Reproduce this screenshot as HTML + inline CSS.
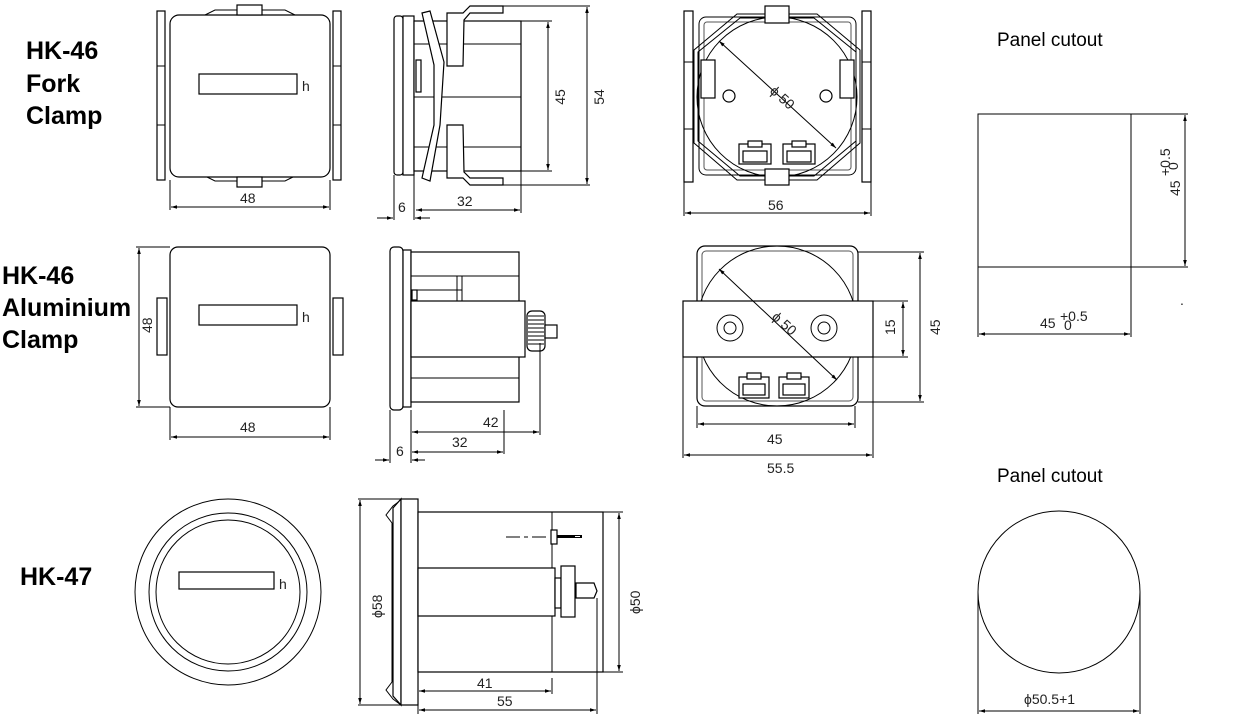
<!DOCTYPE html>
<html><head><meta charset="utf-8"><style>
html,body{margin:0;padding:0;background:#fff;width:1243px;height:723px;overflow:hidden}
svg{display:block}
.l{fill:#fff;stroke:#000;stroke-width:1.2}
.t{fill:none;stroke:#000;stroke-width:1}
.g{fill:none;stroke:#555;stroke-width:1}
.d{font-family:"Liberation Sans",sans-serif;font-size:14px;fill:#222}
.b{font-family:"Liberation Sans",sans-serif;font-size:25px;font-weight:bold;fill:#000}
.p{font-family:"Liberation Sans",sans-serif;font-size:19px;fill:#000}
</style></head><body>
<svg width="1243" height="723" viewBox="0 0 1243 723" xmlns="http://www.w3.org/2000/svg">
<defs><marker id="a" viewBox="0 0 10 10" refX="10" refY="5" markerWidth="8" markerHeight="6" orient="auto-start-reverse"><path d="M0,2L10,5L0,8z" fill="#000"/></marker></defs>
<g class="b"><text x="26" y="59">HK-46</text><text x="26" y="92">Fork</text><text x="26" y="124">Clamp</text>
<text x="2" y="284">HK-46</text><text x="2" y="316">Aluminium</text><text x="2" y="348">Clamp</text>
<text x="20" y="585">HK-47</text></g>
<text class="p" x="997" y="46">Panel cutout</text>
<text class="p" x="997" y="482">Panel cutout</text>

<!-- Row1 front -->
<rect class="l" x="157" y="11" width="8" height="169"/><line class="t" x1="157" y1="66" x2="165" y2="66"/><line class="t" x1="157" y1="125" x2="165" y2="125"/>
<rect class="l" x="333" y="11" width="8" height="169"/><line class="t" x1="333" y1="66" x2="341" y2="66"/><line class="t" x1="333" y1="125" x2="341" y2="125"/>
<path class="t" d="M205,15 L215,10 L285,10 L295,15 M205,176 L215,181 L285,181 L295,176"/>
<rect class="l" x="170" y="15" width="160" height="162" rx="9"/>
<rect class="l" x="237" y="5" width="25" height="10"/><rect class="l" x="237" y="177" width="25" height="10"/>
<rect class="l" x="199" y="74" width="98" height="20"/><text class="d" x="302" y="91" font-size="15">h</text>
<line class="t" x1="170" y1="180" x2="170" y2="210"/><line class="t" x1="330" y1="180" x2="330" y2="210"/>
<line class="t" x1="171" y1="207" x2="329" y2="207" marker-start="url(#a)" marker-end="url(#a)"/><text class="d" x="240" y="203" font-size="11">48</text>

<!-- Row1 side -->
<rect class="l" x="394" y="16" width="9" height="159" rx="3"/><rect class="l" x="403" y="16" width="11" height="159"/>
<rect class="l" x="414" y="21" width="107" height="150"/>
<line class="t" x1="414" y1="44" x2="521" y2="44"/><line class="t" x1="414" y1="97" x2="521" y2="97"/><line class="t" x1="414" y1="147" x2="521" y2="147"/>
<rect class="l" x="416" y="60" width="5" height="32"/>
<path class="l" d="M422,13 L430,11 L444,62 L440,125 L430,181 L422,178 L434,125 L434,65z"/>
<path class="l" d="M447,13 L463,13 L470,6 L503,6 L503,13 L470,13 L464,20 L463,66 L447,66z"/>
<path class="l" d="M447,125 L463,125 L464,172 L470,178 L503,178 L503,185 L470,185 L463,178 L447,178z"/>
<line class="t" x1="503" y1="6" x2="590" y2="6"/><line class="t" x1="503" y1="185" x2="590" y2="185"/>
<line class="t" x1="521" y1="21" x2="552" y2="21"/><line class="t" x1="521" y1="171" x2="552" y2="171"/>
<line class="t" x1="548" y1="22" x2="548" y2="170" marker-start="url(#a)" marker-end="url(#a)"/><text class="d" transform="translate(565,97) rotate(-90)" text-anchor="middle">45</text>
<line class="t" x1="587" y1="7" x2="587" y2="184" marker-start="url(#a)" marker-end="url(#a)"/><text class="d" transform="translate(604,97) rotate(-90)" text-anchor="middle">54</text>
<line class="t" x1="394" y1="175" x2="394" y2="220"/><line class="t" x1="414" y1="175" x2="414" y2="220"/><line class="t" x1="521" y1="171" x2="521" y2="213"/>
<line class="t" x1="416" y1="210" x2="520" y2="210" marker-start="url(#a)" marker-end="url(#a)"/><text class="d" x="457" y="206">32</text>
<line class="t" x1="377" y1="218" x2="393" y2="218" marker-end="url(#a)"/><line class="t" x1="430" y1="218" x2="415" y2="218" marker-end="url(#a)"/><text class="d" x="398" y="212">6</text>

<!-- Row1 rear -->
<rect class="l" x="684" y="11" width="9" height="171"/><line class="t" x1="684" y1="62" x2="693" y2="62"/><line class="t" x1="684" y1="129" x2="693" y2="129"/>
<rect class="l" x="862" y="11" width="9" height="171"/><line class="t" x1="862" y1="62" x2="871" y2="62"/><line class="t" x1="862" y1="129" x2="871" y2="129"/>
<rect class="t" x="699" y="17" width="157" height="158" rx="7"/>
<rect class="g" x="704" y="22" width="147" height="148" rx="3"/>
<circle class="t" cx="777" cy="97" r="80"/>
<path class="t" d="M737,14 L817,14 L860,50 L860,143 L817,180 L737,180 L694,143 L694,50z"/>
<path class="t" d="M740,18 L814,18 L856,52 L856,141 L814,176 L740,176 L698,141 L698,52z"/>
<rect class="l" x="701" y="60" width="14" height="38"/><rect class="l" x="840" y="60" width="14" height="38"/>
<rect class="l" x="765" y="6" width="24" height="17"/><rect class="l" x="765" y="169" width="24" height="16"/>
<circle class="l" cx="729" cy="96" r="6"/><circle class="l" cx="826" cy="96" r="6"/>
<g class="l"><rect x="739" y="144" width="32" height="20"/><rect x="748" y="141" width="14" height="6"/><rect x="743" y="151" width="24" height="11"/>
<rect x="783" y="144" width="32" height="20"/><rect x="792" y="141" width="14" height="6"/><rect x="787" y="151" width="24" height="11"/></g>
<line class="t" x1="719" y1="41" x2="836" y2="148" marker-start="url(#a)" marker-end="url(#a)"/>
<text class="d" transform="translate(769,92) rotate(42)" font-size="15">ϕ 50</text>
<line class="t" x1="684" y1="182" x2="684" y2="216"/><line class="t" x1="871" y1="182" x2="871" y2="216"/>
<line class="t" x1="685" y1="213" x2="870" y2="213" marker-start="url(#a)" marker-end="url(#a)"/><text class="d" x="768" y="210">56</text>

<!-- Panel cutout square -->
<rect class="t" x="978" y="114" width="153" height="153"/>
<line class="t" x1="1131" y1="114" x2="1188" y2="114"/><line class="t" x1="1131" y1="267" x2="1188" y2="267"/>
<line class="t" x1="1185" y1="115" x2="1185" y2="266" marker-start="url(#a)" marker-end="url(#a)"/>
<text class="d" transform="translate(1180,196) rotate(-90)">45</text><text class="d" transform="translate(1170,176) rotate(-90)" font-size="9">+0.5</text><text class="d" transform="translate(1178,170) rotate(-90)" font-size="9">0</text>
<line class="t" x1="978" y1="267" x2="978" y2="337"/><line class="t" x1="1131" y1="267" x2="1131" y2="337"/>
<line class="t" x1="979" y1="334" x2="1130" y2="334" marker-start="url(#a)" marker-end="url(#a)"/>
<text class="d" x="1040" y="328">45</text><text class="d" x="1060" y="321" font-size="9">+0.5</text><text class="d" x="1064" y="330" font-size="9">0</text>
<text class="d" x="1180" y="305" fill="#bbb" font-size="6">.</text>

<!-- Row2 front -->
<rect class="l" x="157" y="298" width="10" height="57"/><rect class="l" x="333" y="298" width="10" height="57"/>
<rect class="l" x="170" y="247" width="160" height="160" rx="8"/>
<rect class="l" x="199" y="305" width="98" height="20"/><text class="d" x="302" y="322" font-size="15">h</text>
<line class="t" x1="136" y1="247" x2="170" y2="247"/><line class="t" x1="136" y1="407" x2="170" y2="407"/>
<line class="t" x1="139" y1="248" x2="139" y2="406" marker-start="url(#a)" marker-end="url(#a)"/><text class="d" transform="translate(152,333) rotate(-90)" font-size="12">48</text>
<line class="t" x1="170" y1="407" x2="170" y2="440"/><line class="t" x1="330" y1="407" x2="330" y2="440"/>
<line class="t" x1="171" y1="437" x2="329" y2="437" marker-start="url(#a)" marker-end="url(#a)"/><text class="d" x="240" y="432" font-size="11">48</text>

<!-- Row2 side -->
<rect class="l" x="390" y="247" width="13" height="163" rx="4"/><rect class="l" x="403" y="250" width="8" height="157"/>
<rect class="l" x="411" y="252" width="108" height="150"/>
<line class="t" x1="411" y1="276" x2="519" y2="276"/><line class="t" x1="411" y1="378" x2="519" y2="378"/>
<line class="t" x1="457" y1="276" x2="457" y2="301"/><line class="t" x1="462" y1="276" x2="462" y2="301"/>
<rect class="l" x="412" y="290" width="5" height="10"/><line class="t" x1="417" y1="290" x2="462" y2="290"/>
<rect class="l" x="411" y="301" width="114" height="56"/>
<rect class="l" x="527" y="311" width="18" height="40" rx="5"/>
<g class="t"><line x1="528" y1="316" x2="544" y2="316"/><line x1="528" y1="320" x2="544" y2="320"/><line x1="528" y1="324" x2="544" y2="324"/><line x1="528" y1="328" x2="544" y2="328"/><line x1="528" y1="332" x2="544" y2="332"/><line x1="528" y1="336" x2="544" y2="336"/><line x1="528" y1="340" x2="544" y2="340"/><line x1="528" y1="344" x2="544" y2="344"/></g>
<rect class="l" x="545" y="325" width="12" height="13"/>
<line class="t" x1="390" y1="410" x2="390" y2="463"/><line class="t" x1="411" y1="410" x2="411" y2="463"/>
<line class="t" x1="504" y1="410" x2="504" y2="454"/><line class="t" x1="540" y1="343" x2="540" y2="435"/>
<line class="t" x1="412" y1="432" x2="539" y2="432" marker-start="url(#a)" marker-end="url(#a)"/><text class="d" x="483" y="427">42</text>
<line class="t" x1="412" y1="452" x2="503" y2="452" marker-start="url(#a)" marker-end="url(#a)"/><text class="d" x="452" y="447">32</text>
<line class="t" x1="375" y1="460" x2="389" y2="460" marker-end="url(#a)"/><line class="t" x1="425" y1="460" x2="412" y2="460" marker-end="url(#a)"/><text class="d" x="396" y="456">6</text>

<!-- Row2 rear -->
<rect class="l" x="697" y="246" width="161" height="160" rx="8"/>
<rect class="g" x="702" y="251" width="151" height="150" rx="4"/>
<circle class="t" cx="777" cy="326" r="80"/>
<rect class="l" x="683" y="301" width="190" height="56"/>
<circle class="t" cx="730" cy="328" r="13"/><circle class="t" cx="730" cy="328" r="6"/>
<circle class="t" cx="824" cy="328" r="13"/><circle class="t" cx="824" cy="328" r="6"/>
<g class="l"><rect x="739" y="377" width="30" height="21"/><rect x="747" y="373" width="14" height="6"/><rect x="743" y="384" width="22" height="11"/>
<rect x="779" y="377" width="30" height="21"/><rect x="787" y="373" width="14" height="6"/><rect x="783" y="384" width="22" height="11"/></g>
<line class="t" x1="719" y1="269" x2="837" y2="380" marker-start="url(#a)" marker-end="url(#a)"/>
<text class="d" transform="translate(771,318) rotate(42)" font-size="15">ϕ 50</text>
<line class="t" x1="873" y1="301" x2="908" y2="301"/><line class="t" x1="873" y1="357" x2="908" y2="357"/>
<line class="t" x1="903" y1="302" x2="903" y2="356" marker-start="url(#a)" marker-end="url(#a)"/><text class="d" transform="translate(895,335) rotate(-90)">15</text>
<line class="t" x1="858" y1="252" x2="924" y2="252"/><line class="t" x1="858" y1="402" x2="924" y2="402"/>
<line class="t" x1="920" y1="253" x2="920" y2="401" marker-start="url(#a)" marker-end="url(#a)"/><text class="d" transform="translate(940,335) rotate(-90)">45</text>
<line class="t" x1="697" y1="406" x2="697" y2="428"/><line class="t" x1="855" y1="406" x2="855" y2="428"/>
<line class="t" x1="683" y1="357" x2="683" y2="458"/><line class="t" x1="873" y1="357" x2="873" y2="458"/>
<line class="t" x1="698" y1="424" x2="854" y2="424" marker-start="url(#a)" marker-end="url(#a)"/><text class="d" x="767" y="444">45</text>
<line class="t" x1="684" y1="455" x2="872" y2="455" marker-start="url(#a)" marker-end="url(#a)"/><text class="d" x="767" y="473">55.5</text>

<!-- Row3 front -->
<circle class="t" cx="228" cy="592" r="93"/><circle class="t" cx="228" cy="592" r="79"/><circle class="t" cx="228" cy="592" r="72"/>
<rect class="l" x="179" y="572" width="95" height="17"/><text class="d" x="279" y="589" font-size="15">h</text>

<!-- Row3 side -->
<path class="t" d="M393,506 L401,500 L401,705 L393,699 L386,690 L392,682 L392,523 L386,515z"/>
<path class="l" d="M393,508 L401,499 L401,705 L393,696 Z"/>
<rect class="l" x="401" y="499" width="17" height="206"/>
<rect class="l" x="418" y="512" width="185" height="160"/>
<line class="t" x1="552" y1="512" x2="552" y2="672"/>
<rect class="l" x="418" y="568" width="137" height="48"/>
<rect class="l" x="555" y="578" width="6" height="30"/>
<rect class="l" x="561" y="566" width="14" height="51"/>
<path class="l" d="M576,583 L594,583 L597,591 L594,598 L576,598z"/>
<path class="t" d="M506,537 L546,537 M551,537 L555,537" stroke-dasharray="14,4,4,4"/>
<rect class="l" x="551" y="530" width="6" height="14"/><rect x="557" y="535" width="25" height="3" fill="#000"/><rect x="575" y="536" width="5" height="1" fill="#fff"/>
<line class="t" x1="358" y1="499" x2="401" y2="499"/><line class="t" x1="358" y1="705" x2="401" y2="705"/>
<line class="t" x1="360" y1="500" x2="360" y2="704" marker-start="url(#a)" marker-end="url(#a)"/><text class="d" transform="translate(382,618) rotate(-90)" font-size="15">ϕ58</text>
<line class="t" x1="603" y1="512" x2="623" y2="512"/><line class="t" x1="603" y1="672" x2="623" y2="672"/>
<line class="t" x1="619" y1="513" x2="619" y2="671" marker-start="url(#a)" marker-end="url(#a)"/><text class="d" transform="translate(640,614) rotate(-90)" font-size="15">ϕ50</text>
<line class="t" x1="418" y1="672" x2="418" y2="714"/><line class="t" x1="552" y1="678" x2="552" y2="694"/><line class="t" x1="597" y1="598" x2="597" y2="714"/>
<line class="t" x1="419" y1="691" x2="551" y2="691" marker-start="url(#a)" marker-end="url(#a)"/><text class="d" x="477" y="688">41</text>
<line class="t" x1="419" y1="710" x2="596" y2="710" marker-start="url(#a)" marker-end="url(#a)"/><text class="d" x="497" y="706">55</text>

<!-- Row3 panel cutout -->
<circle class="t" cx="1059" cy="592" r="81"/>
<line class="t" x1="978" y1="592" x2="978" y2="714"/><line class="t" x1="1140" y1="592" x2="1140" y2="714"/>
<line class="t" x1="979" y1="711" x2="1139" y2="711" marker-start="url(#a)" marker-end="url(#a)"/>
<text class="d" x="1024" y="704" font-size="15">ϕ50.5+1</text>
</svg>
</body></html>
